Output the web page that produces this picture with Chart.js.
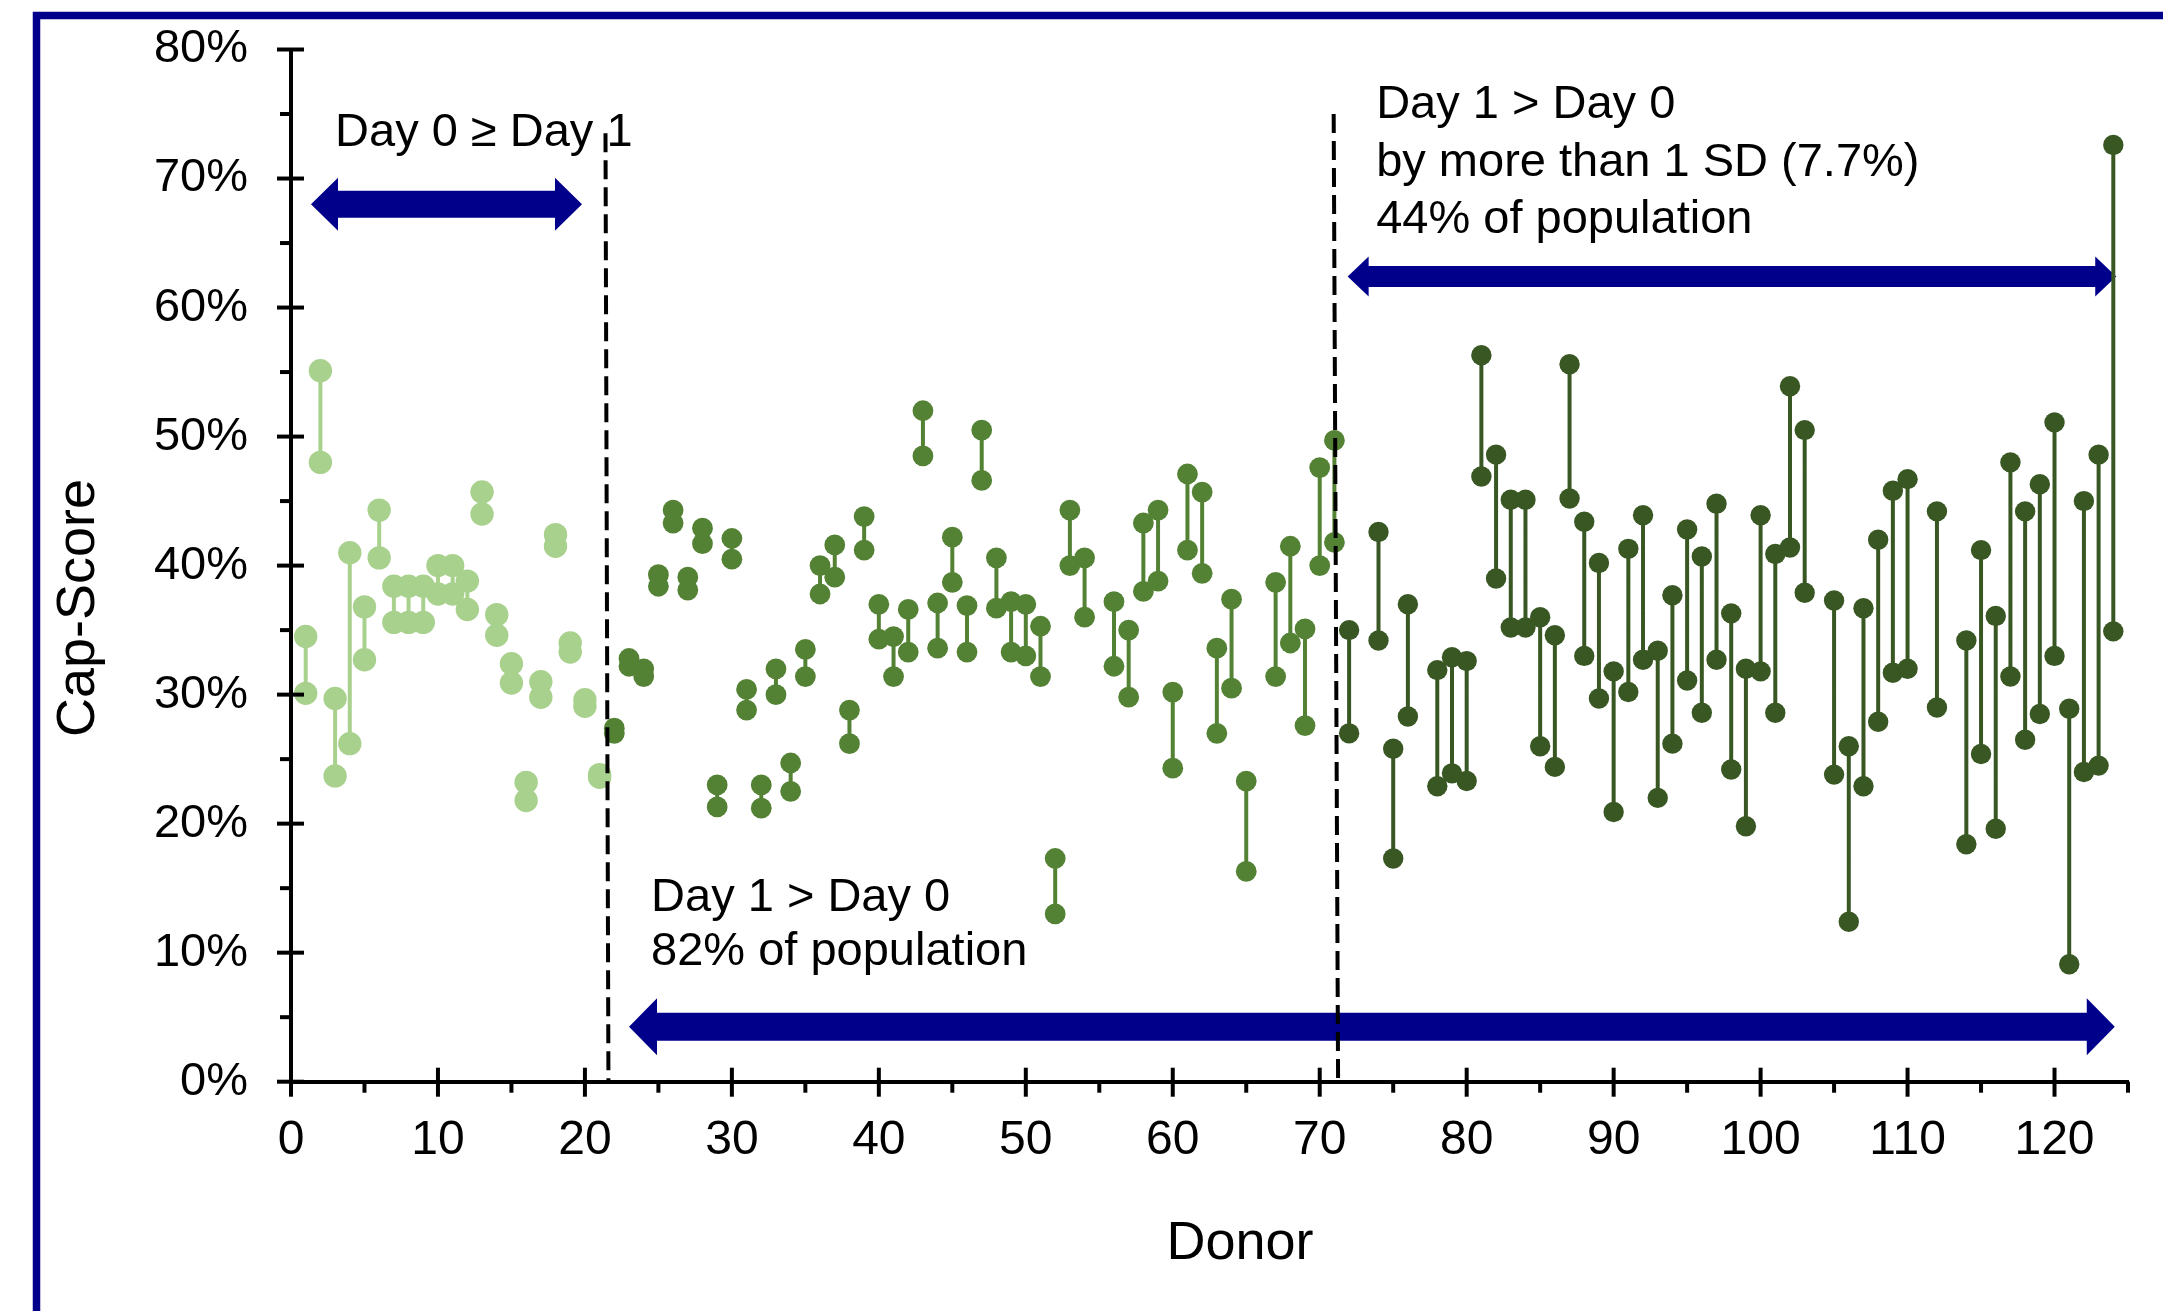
<!DOCTYPE html>
<html>
<head>
<meta charset="utf-8">
<script src="https://cdn.jsdelivr.net/npm/chart.js@4.4.1/dist/chart.umd.min.js"></script>
<style>
  html, body { margin: 0; padding: 0; background: #fff; }
  #wrap { width: 2163px; height: 1311px; position: relative; }
</style>
</head>
<body>
<div id="wrap"><canvas id="capChart"></canvas></div>
<script>
// Day 0 >= Day 1
const lightDonors = [1, 2, 3, 4, 5, 6, 7, 8, 9, 10, 11, 12, 13, 14, 15, 16, 17, 18, 19, 20, 21];
const lightDay0 = [34.5, 55.1, 29.7, 41.0, 36.8, 44.3, 38.4, 38.4, 38.4, 40.0, 40.0, 38.8, 45.7, 36.2, 32.4, 23.2, 31.0, 42.4, 34.0, 29.6, 23.8];
const lightDay1 = [30.1, 48.0, 23.7, 26.2, 32.7, 40.6, 35.6, 35.6, 35.6, 37.8, 37.8, 36.6, 44.0, 34.6, 30.9, 21.8, 29.8, 41.5, 33.3, 29.1, 23.6];

// Day 1 > Day 0
const midDonors = [22, 23, 24, 25, 26, 27, 28, 29, 30, 31, 32, 33, 34, 35, 36, 37, 38, 39, 40, 41, 42, 43, 44, 45, 46, 47, 48, 49, 50,
  51, 52, 53, 54, 56, 57, 58, 59, 60, 61, 62, 63, 64, 65, 67, 68, 69, 70, 71];
const midDay0 = [27.0, 32.2, 31.4, 38.4, 43.3, 38.1, 41.7, 21.3, 40.5, 28.8, 21.2, 30.0, 22.5, 31.4, 37.8, 39.1, 26.2, 41.2, 34.3, 31.4, 33.3, 48.5, 33.6, 38.7, 33.3, 46.6, 36.7, 33.3, 33.0,
  31.4, 13.0, 40.0, 36.0, 32.2, 29.8, 38.0, 38.8, 24.3, 41.2, 39.4, 27.0, 30.5, 16.3, 31.4, 34.0, 27.6, 40.0, 41.8];
const midDay1 = [27.4, 32.8, 32.0, 39.3, 44.3, 39.1, 42.9, 23.0, 42.1, 30.4, 23.0, 32.0, 24.7, 33.5, 40.0, 41.6, 28.8, 43.8, 37.0, 34.5, 36.6, 52.0, 37.1, 42.2, 36.9, 50.5, 40.6, 37.2, 37.0,
  35.3, 17.3, 44.3, 40.6, 37.2, 35.0, 43.3, 44.3, 30.2, 47.1, 45.7, 33.6, 37.4, 23.3, 38.7, 41.5, 35.1, 47.6, 49.7];

// Day 1 > Day 0 by more than 1 SD
const darkDonors = [72, 74, 75, 76, 78, 79, 80, 81, 82, 83, 84, 85, 86, 87, 88, 89, 90, 91, 92, 93, 94, 95, 96, 97, 98, 99, 100,
  101, 102, 103, 105, 106, 107, 108, 109, 110, 112, 114, 115, 116, 117, 118, 119, 120, 121, 122, 123, 124];
const darkDay0 = [27.0, 34.2, 17.3, 28.3, 22.9, 23.9, 23.3, 46.9, 39.0, 35.2, 35.2, 26.0, 24.4, 45.2, 33.0, 29.7, 20.9, 30.2, 32.7, 22.0, 26.2, 31.1, 28.6, 32.7, 24.2, 19.8, 31.8,
  28.6, 41.4, 37.9, 23.8, 12.4, 22.9, 27.9, 31.7, 32.0, 29.0, 18.4, 25.4, 19.6, 31.4, 26.5, 28.5, 33.0, 9.1, 24.0, 24.5, 34.9];
const darkDay1 = [35.0, 42.6, 25.8, 37.0, 31.9, 32.9, 32.6, 56.3, 48.6, 45.1, 45.1, 36.0, 34.6, 55.6, 43.4, 40.2, 31.8, 41.3, 43.9, 33.4, 37.7, 42.8, 40.7, 44.8, 36.3, 32.0, 43.9,
  40.9, 53.9, 50.5, 37.3, 26.0, 36.7, 42.0, 45.8, 46.7, 44.2, 34.2, 41.2, 36.1, 48.0, 44.2, 46.3, 51.1, 28.9, 45.0, 48.6, 72.6];

const xTickLabels = ["0", "10", "20", "30", "40", "50", "60", "70", "80", "90", "100", "110", "120"];
const yTickLabels = ["0%", "10%", "20%", "30%", "40%", "50%", "60%", "70%", "80%"];

// annotations, in axis units
const dividers = [
  { xTop: 21.4, xBottom: 21.6, yTop: 73.5 },
  { xTop: 70.95, xBottom: 71.25, yTop: 75.0 }
];
const arrows = [
  { from: 1.36, to: 19.8, y: 68.0, shaft: 27, head: 53, headLen: 27 },
  { from: 71.9, to: 124.2, y: 62.4, shaft: 21, head: 40, headLen: 21 },
  { from: 23.0, to: 124.1, y: 4.26, shaft: 28, head: 57, headLen: 28 }
];
const notes = [
  { x: 3.0, y: 72.5, text: "Day 0 \u2265 Day 1" },
  { x: 73.84, y: 74.7, text: "Day 1 > Day 0" },
  { x: 73.84, y: 70.2, text: "by more than 1 SD (7.7%)" },
  { x: 73.84, y: 65.8, text: "44% of population" },
  { x: 24.5, y: 13.2, text: "Day 1 > Day 0" },
  { x: 24.5, y: 9.05, text: "82% of population" }
];

const NAVY = "#00008B";
const FONT = '"Liberation Sans", Arial, sans-serif';

function dumbbell(donors, day0, day1) {
  const pts = [];
  donors.forEach((d, i) => {
    pts.push({ x: d, y: day0[i] }, { x: d, y: day1[i] }, { x: d, y: null });
  });
  return pts;
}

function groupDataset(label, pts, color, radius) {
  return {
    label,
    data: pts,
    showLine: true,
    spanGaps: false,
    borderColor: color,
    borderWidth: 4,
    backgroundColor: color,
    pointBackgroundColor: color,
    pointBorderWidth: 0,
    pointRadius: radius,
    pointHoverRadius: radius,
  };
}

const decorPlugin = {
  id: "decor",
  beforeDraw(chart) {
    const ctx = chart.ctx;
    ctx.save();
    ctx.strokeStyle = NAVY;
    ctx.lineWidth = 7.5;
    ctx.strokeRect(36.5, 15.5, chart.width + 40, chart.height + 40);
    ctx.restore();
  },
  beforeDatasetsDraw(chart) {
    const { ctx, scales: { x, y } } = chart;
    ctx.save();
    ctx.fillStyle = NAVY;
    arrows.forEach(a => {
      const xs = x.getPixelForValue(a.from);
      const xe = x.getPixelForValue(a.to);
      const yc = y.getPixelForValue(a.y);
      const s = a.shaft / 2, h = a.head / 2, L = a.headLen;
      ctx.beginPath();
      ctx.moveTo(xs, yc);
      ctx.lineTo(xs + L, yc - h);
      ctx.lineTo(xs + L, yc - s);
      ctx.lineTo(xe - L, yc - s);
      ctx.lineTo(xe - L, yc - h);
      ctx.lineTo(xe, yc);
      ctx.lineTo(xe - L, yc + h);
      ctx.lineTo(xe - L, yc + s);
      ctx.lineTo(xs + L, yc + s);
      ctx.lineTo(xs + L, yc + h);
      ctx.closePath();
      ctx.fill();
    });
    ctx.restore();
  },
  afterDatasetsDraw(chart) {
    const { ctx, scales: { x, y } } = chart;
    ctx.save();
    ctx.strokeStyle = "#000";
    ctx.lineWidth = 4;
    ctx.setLineDash([19, 8]);
    dividers.forEach(d => {
      ctx.beginPath();
      ctx.moveTo(x.getPixelForValue(d.xTop), y.getPixelForValue(d.yTop));
      ctx.lineTo(x.getPixelForValue(d.xBottom), y.getPixelForValue(0));
      ctx.stroke();
    });
    ctx.setLineDash([]);

    ctx.fillStyle = "#000";
    ctx.font = "47px " + FONT;
    ctx.textAlign = "left";
    ctx.textBaseline = "alphabetic";
    notes.forEach(n => ctx.fillText(n.text, x.getPixelForValue(n.x), y.getPixelForValue(n.y)));

    // tick marks: major ones cross the axis, minor ones sit outside
    ctx.strokeStyle = "#000";
    ctx.lineWidth = 4;
    const y0 = y.getPixelForValue(0);
    x.ticks.forEach(t => {
      const px = x.getPixelForValue(t.value);
      const major = t.value % 10 === 0;
      ctx.beginPath();
      ctx.moveTo(px, major ? y0 - 14 : y0);
      ctx.lineTo(px, y0 + (major ? 15 : 11));
      ctx.stroke();
    });
    const x0 = x.getPixelForValue(0);
    y.ticks.forEach(t => {
      const py = y.getPixelForValue(t.value);
      const major = t.value % 10 === 0;
      ctx.beginPath();
      ctx.moveTo(x0 - (major ? 14 : 11), py);
      ctx.lineTo(major ? x0 + 13 : x0, py);
      ctx.stroke();
    });

    // axis titles
    ctx.font = "54px " + FONT;
    ctx.textAlign = "center";
    ctx.textBaseline = "middle";
    ctx.fillText("Donor", 1240, 1244);
    ctx.translate(79, 608);
    ctx.rotate(-Math.PI / 2);
    ctx.fillText("Cap-Score", 0, 0);
    ctx.restore();
  }
};

Chart.defaults.font.family = FONT;
Chart.defaults.color = "#000";

new Chart(document.getElementById("capChart"), {
  type: "scatter",
  data: {
    datasets: [
      groupDataset("Day 0 \u2265 Day 1", dumbbell(lightDonors, lightDay0, lightDay1), "#A9D18E", 11.7),
      groupDataset("Day 1 > Day 0", dumbbell(midDonors, midDay0, midDay1), "#548235", 10.4),
      groupDataset("Day 1 > Day 0 by > 1 SD", dumbbell(darkDonors, darkDay0, darkDay1), "#385723", 10.2),
    ]
  },
  options: {
    responsive: true,
    maintainAspectRatio: false,
    animation: false,
    events: [],
    layout: { padding: { left: 0, top: 49.5, right: 35, bottom: 0 } },
    plugins: { legend: { display: false }, tooltip: { enabled: false } },
    scales: {
      x: {
        type: "linear",
        min: 0,
        max: 125,
        grid: { display: false, drawTicks: false },
        border: { display: true, color: "#000", width: 4 },
        ticks: {
          stepSize: 5,
          autoSkip: false,
          maxRotation: 0,
          padding: 30,
          font: { size: 48 },
          color: "#000",
          callback: v => (v % 10 === 0 ? xTickLabels[v / 10] : "")
        },
        afterFit: scale => {
          scale.height = 1311 - 1081.7;
          scale.paddingLeft = 0;
          scale.paddingRight = 0;
        }
      },
      y: {
        min: 0,
        max: 80,
        grid: { display: false, drawTicks: false },
        border: { display: true, color: "#000", width: 4 },
        ticks: {
          stepSize: 5,
          autoSkip: false,
          padding: 43,
          font: { size: 47 },
          color: "#000",
          callback: v => (v % 10 === 0 ? yTickLabels[v / 10] : "")
        },
        afterFit: scale => {
          scale.width = 291;
          scale.paddingTop = 0;
          scale.paddingBottom = 0;
        }
      }
    }
  },
  plugins: [decorPlugin]
});
</script>
</body>
</html>
